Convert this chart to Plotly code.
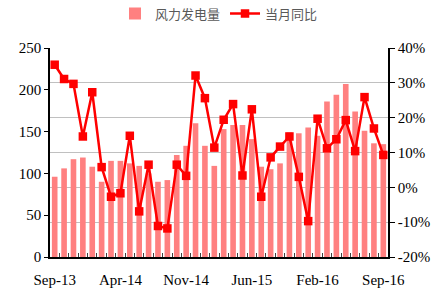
import plotly.graph_objects as go

months = ["Sep-13","Oct-13","Nov-13","Dec-13","Jan-14","Feb-14","Mar-14","Apr-14",
          "May-14","Jun-14","Jul-14","Aug-14","Sep-14","Oct-14","Nov-14","Dec-14",
          "Jan-15","Feb-15","Mar-15","Apr-15","May-15","Jun-15","Jul-15","Aug-15",
          "Sep-15","Oct-15","Nov-15","Dec-15","Feb-16","Mar-16","Apr-16","May-16",
          "Jun-16","Jul-16","Aug-16","Sep-16"]

wind_power = [96, 106, 117, 119, 108, 90, 115, 115, 112, 109, 100, 90,
              92, 122, 133, 160, 133, 109, 153, 158, 158, 141, 108, 105,
              112, 149, 148, 155, 145, 186, 194, 207, 174, 151, 136, 135]

yoy_pct = [35.2, 31.1, 29.7, 14.6, 27.3, 5.8, -2.7, -1.7, 14.8, -6.9, 6.5, -11.1,
           -11.8, 6.5, 3.3, 32.1, 25.6, 11.4, 19.4, 23.9, 3.4, 22.4, -2.7, 8.6,
           11.7, 14.6, 3.0, -9.7, 19.7, 11.2, 13.8, 19.3, 10.4, 25.9, 16.9, 9.3]

label_months = ["Sep-13", "Apr-14", "Nov-14", "Jun-15", "Feb-16", "Sep-16"]
tick_text = [m if m in label_months else "" for m in months]

serif = "Liberation Serif"

fig = go.Figure()
fig.add_trace(go.Bar(
    x=months, y=wind_power, name="风力发电量",
    marker=dict(color="#FF8080", line=dict(width=0)),
    yaxis="y",
))
fig.add_trace(go.Scatter(
    x=months, y=yoy_pct, name="当月同比", mode="lines+markers",
    line=dict(color="#FF0000", width=2.5),
    marker=dict(symbol="square", size=8.5, color="#FF0000"),
    yaxis="y2",
))

fig.update_layout(
    width=439, height=289,
    font=dict(family=serif, size=15, color="black"),
    margin=dict(l=50, r=51, t=48, b=32, autoexpand=False),
    paper_bgcolor="white", plot_bgcolor="white",
    bargap=0.4,
    showlegend=True,
    legend=dict(orientation="h", x=0.5, xanchor="center", y=1.165, yanchor="middle",
                font=dict(family="Noto Sans CJK SC", size=13, color="#595959"),
                itemwidth=30, traceorder="normal", bgcolor="rgba(0,0,0,0)"),
    xaxis=dict(
        type="category", tickmode="array", tickvals=months, ticktext=tick_text,
        range=[-0.5, len(months) - 0.5], autorange=False,
        tickson="boundaries", ticks="inside", ticklen=4, tickcolor="#404040",
        showline=True, linecolor="black", linewidth=1.5,
        tickfont=dict(family=serif, size=15, color="black"),
        ticklabelstandoff=8,
        showgrid=False, tickangle=0, automargin=False,
    ),
    yaxis=dict(
        range=[0, 250], tickvals=[0, 50, 100, 150, 200, 250],
        ticks="outside", ticklen=4, tickcolor="black",
        showline=True, linecolor="black", linewidth=1.5,
        showgrid=False, zeroline=False,
        tickfont=dict(family=serif, size=15, color="black"),
        automargin=False,
    ),
    yaxis2=dict(
        overlaying="y", side="right",
        range=[-20, 40], tickvals=[-20, -10, 0, 10, 20, 30, 40],
        ticktext=["-20%", "-10%", "0%", "10%", "20%", "30%", "40%"],
        ticks="outside", ticklen=5, tickcolor="black",
        showline=True, linecolor="black", linewidth=1.5,
        showgrid=True, gridcolor="#C0C0C0", gridwidth=1, zeroline=False,
        tickfont=dict(family=serif, size=15, color="black"),
        automargin=False,
    ),
)

fig.write_html("out.html")
